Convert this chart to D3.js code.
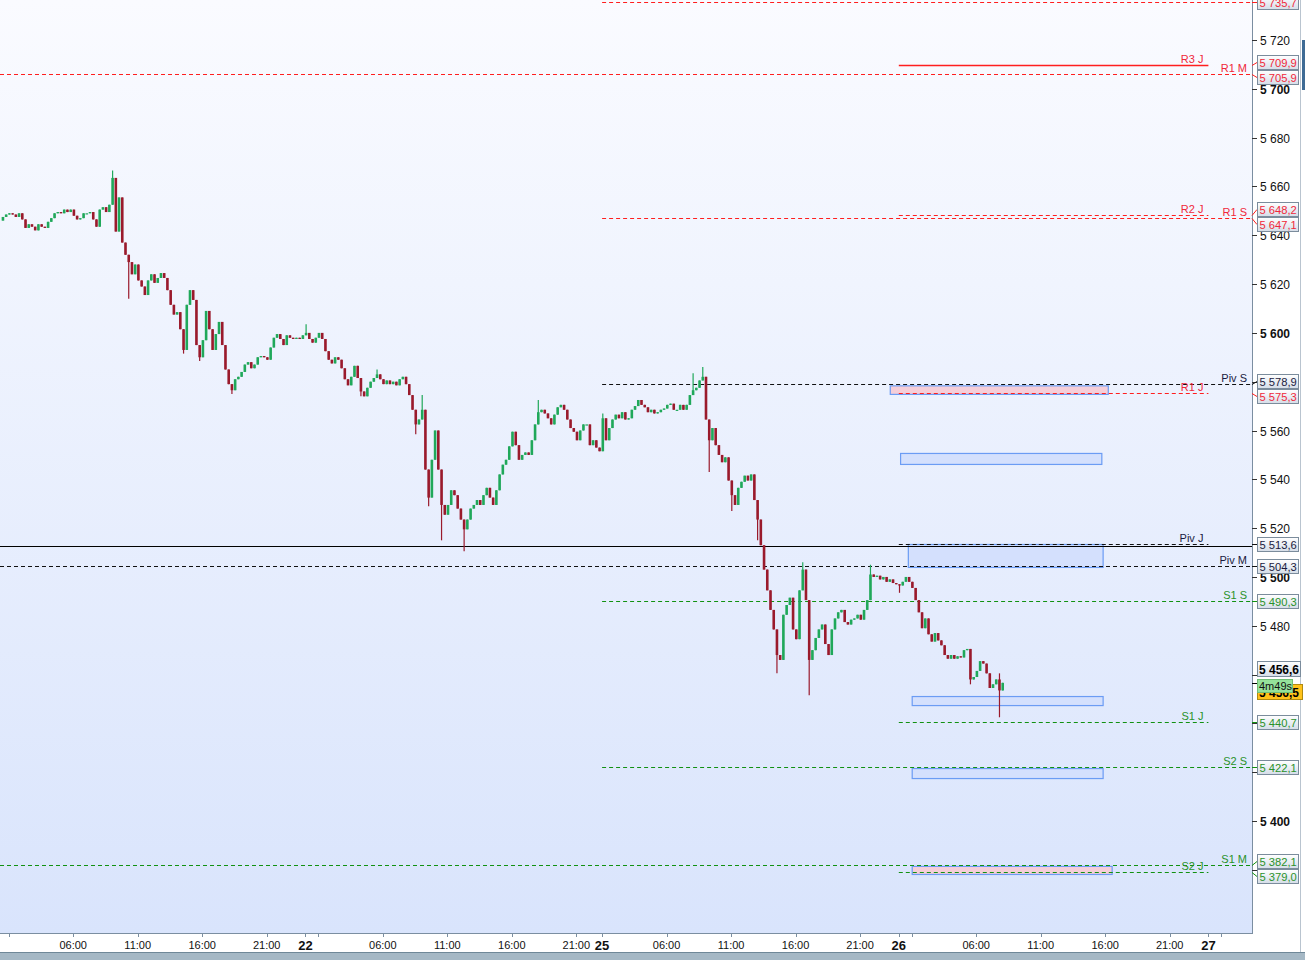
<!DOCTYPE html>
<html>
<head>
<meta charset="utf-8">
<script src="https://cdn.jsdelivr.net/npm/d3@7"></script>
<style>
body { margin: 0; background: #fff; overflow: hidden; }
svg { display: block; font-family: "Liberation Sans", Arial, sans-serif; }
</style>
</head>
<body>
<svg id="chart"></svg>
<script>
// 15 minute bars, time counted in session hours from the 21st 01:00
const startHour = -0.5;
const barHours = 0.25;
const firstOpen = 5646;
const closes = [
	5647.5, 5648.5, 5649, 5648.5, 5647.5, 5649, 5646.5, 5643, 5644.5, 5643.5,
	5642, 5644.5, 5643.5, 5643, 5645.5, 5647, 5649, 5649.5, 5649, 5650.5,
	5649.5, 5650.5, 5648, 5646.5, 5647, 5649, 5649, 5649.5, 5646.5, 5643.5,
	5650.5, 5651.5, 5649.5, 5652.5, 5663.5, 5641.5, 5655.5, 5637, 5632, 5629,
	5624, 5628, 5621.5, 5619, 5615.5, 5621.5, 5624, 5620.5, 5622.5, 5624.5,
	5622.5, 5617.5, 5611.5, 5607.5, 5608.5, 5601.5, 5593, 5611.5, 5617.5, 5613.5,
	5595, 5590, 5597, 5609, 5601.5, 5593, 5599.5, 5604.5, 5595, 5585,
	5579, 5576.5, 5581, 5582, 5584, 5587, 5588, 5585.5, 5587, 5590,
	5590.5, 5590, 5589, 5594, 5598, 5599.5, 5597.5, 5595, 5599, 5598,
	5597.5, 5598, 5597.5, 5599, 5600, 5597.5, 5596, 5598, 5600, 5597.5,
	5592.5, 5589, 5587.5, 5590, 5589, 5585.5, 5581, 5578.5, 5582, 5586.5,
	5581.5, 5576, 5574, 5577.5, 5580, 5581.5, 5583, 5581, 5579, 5580.5,
	5579, 5580, 5578.5, 5581, 5582, 5579, 5574.5, 5568.5, 5562.5, 5564.5,
	5568.5, 5544, 5532.5, 5548, 5560, 5544, 5529.5, 5525.5, 5529.5, 5535.5,
	5533.5, 5528, 5523.5, 5519.5, 5523.5, 5528, 5529.5, 5531.5, 5529.5, 5533.5,
	5536.5, 5532.5, 5529.5, 5535.5, 5542, 5546, 5548, 5553.5, 5559.5, 5554,
	5548, 5550, 5551, 5550, 5556, 5562.5, 5567.5, 5568.5, 5567, 5565,
	5562.5, 5566.5, 5569.5, 5570.5, 5568.5, 5564.5, 5561, 5559.5, 5556, 5560,
	5562.5, 5562.5, 5554, 5556, 5553, 5551.5, 5565, 5556, 5561, 5564.5,
	5566.5, 5565, 5567.5, 5564.5, 5565, 5568.5, 5570, 5572.5, 5570.5, 5569.5,
	5567.5, 5568.5, 5567, 5567.5, 5568.5, 5569, 5570.5, 5571, 5568.5, 5568.5,
	5570.5, 5568.5, 5570.5, 5574.5, 5576.5, 5577.5, 5580.5, 5582, 5564.5, 5556,
	5561, 5554, 5550, 5547, 5549, 5539.5, 5533.5, 5529.5, 5536.5, 5539,
	5541.5, 5539.5, 5542, 5531.5, 5523.5, 5513, 5503, 5494.5, 5486.5, 5478.5,
	5468, 5466, 5484.5, 5488.5, 5491.5, 5478.5, 5474.5, 5494.5, 5503, 5490.5,
	5466, 5470, 5475, 5478.5, 5480.5, 5472.5, 5468, 5478.5, 5483, 5485.5,
	5486.5, 5481.5, 5480.5, 5482.5, 5483, 5484.5, 5482.5, 5486.5, 5490.5, 5501,
	5500, 5500.5, 5499, 5500, 5498, 5499, 5497.5, 5497, 5496.5, 5498,
	5500, 5498, 5495.5, 5490.5, 5485.5, 5479, 5483, 5476.5, 5473.5, 5477,
	5474, 5472, 5468, 5466.5, 5468, 5466.5, 5467.5, 5467, 5470, 5470.5,
	5458, 5459, 5461.5, 5465.5, 5464.5, 5460.5, 5454.5, 5456, 5458, 5453.5, 5456.6
];
// [bar index, high, low] for bars whose wick reaches past the body
const spikes = [
	[34, 5666.5, null], [39, null, 5614], [56, null, 5591.5], [61, null, 5588.5],
	[71, null, 5575], [94, 5603.5, null], [111, null, 5574], [116, 5585, null],
	[128, null, 5558.5], [130, 5574.5, null], [132, null, 5529], [136, null, 5515],
	[143, null, 5510.5], [166, 5572.5, null], [186, 5567, null], [214, 5583.5, null],
	[217, 5586, null], [219, null, 5543], [226, null, 5527], [234, null, 5515],
	[240, null, 5460.5], [248, 5506, null], [250, null, 5451.5], [269, 5505, null],
	[278, null, 5493.5], [300, null, 5456], [309, 5460.5, 5442.5]
];

const levelNames = ['R2 S', 'R3 J', 'R1 M', 'R2 J', 'R1 S', 'Piv S', 'R1 J', 'Piv J', 'Piv M', 'S1 S', 'S1 J', 'S2 S', 'S1 M', 'S2 J'];
const levelPrices = [5735.7, 5709.9, 5705.9, 5648.2, 5647.1, 5578.9, 5575.3, 5513.6, 5504.3, 5490.3, 5440.7, 5422.1, 5382.1, 5379.0];
const solidLevels = ['R3 J'];
const userLine = 5512.7;
const lastPrice = 5456.6;
const lastBidText = '5 456,5';
const timerText = '4m49s';

const zoneStart = [68.3, 69.1, 69.7, 70.0, 70.0, 70.0];
const zoneEnd = [85.2, 84.7, 84.8, 84.8, 84.8, 85.5];
const zoneTop = [5578.5, 5550.8, 5513.5, 5451.2, 5421.7, 5381.6];
const zoneBottom = [5575.0, 5546.3, 5504.1, 5447.5, 5417.6, 5378.3];
const zoneKind = ['sell', 'buy', 'buy', 'buy', 'buy', 'sell'];

const priceTicks = [5380, 5400, 5420, 5440, 5460, 5480, 5500, 5520, 5540, 5560, 5580, 5600, 5620, 5640, 5660, 5680, 5700, 5720];
const hourTicks = [5, 10, 15, 20, 29, 34, 39, 44, 51, 56, 61, 66, 75, 80, 85, 90];
const hourLabels = ['06:00', '11:00', '16:00', '21:00', '06:00', '11:00', '16:00', '21:00', '06:00', '11:00', '16:00', '21:00', '06:00', '11:00', '16:00', '21:00'];
const dayTicks = [23, 46, 69, 93];
const dayLabels = ['22', '25', '26', '27'];
const sessionTicks = [0, 24, 70, 94];

const width = 1305, height = 960;
const plotRight = 1252, plotBottom = 933;

const svg = d3.select('#chart').attr('width', width).attr('height', height);
const defs = svg.append('defs');

const bg = defs.append('linearGradient').attr('id', 'bg').attr('x1', 0).attr('y1', 0).attr('x2', 0).attr('y2', 1);
bg.append('stop').attr('offset', '0%').attr('stop-color', '#fafbff');
bg.append('stop').attr('offset', '100%').attr('stop-color', '#d9e4fc');
const boxGrad = defs.append('linearGradient').attr('id', 'boxbg').attr('x1', 0).attr('y1', 0).attr('x2', 0).attr('y2', 1);
boxGrad.append('stop').attr('offset', '0%').attr('stop-color', '#ffffff');
boxGrad.append('stop').attr('offset', '100%').attr('stop-color', '#d5dde8');
defs.append('clipPath').attr('id', 'plotclip')
	.append('rect').attr('x', 0).attr('y', 0).attr('width', plotRight).attr('height', plotBottom);

const x = d3.scaleLinear().domain([0, 96]).range([8.7, 8.7 + 96 * 12.9]);
const y = d3.scaleLinear().domain([5400, 5720]).range([821, 40]);

const colors = { up: '#20a85a', down: '#9a1a2c', red: '#ff1f1f', black: '#111', green: '#119111' };
const levelColor = name => name[0] === 'R' ? colors.red : (name[0] === 'P' ? colors.black : colors.green);
const levelText = name => name[0] === 'R' ? '#f0283a' : (name[0] === 'P' ? '#1a1a40' : '#2a922a');
const levelRange = name => {
	const period = name[name.length - 1];
	if (period === 'J') return [x(69), x(93)];
	if (period === 'S') return [x(46), plotRight];
	return [0, plotRight];
};
const fmt = v => d3.format(',.1f')(v).replace(',', ' ').replace('.', ',');

// background panels
svg.append('rect').attr('width', plotRight).attr('height', plotBottom).attr('fill', 'url(#bg)');
svg.append('rect').attr('y', 952).attr('width', width).attr('height', 8).attr('fill', '#a5b8c5');
svg.append('line').attr('x1', 0).attr('x2', width).attr('y1', 952.5).attr('y2', 952.5).attr('stroke', '#6f8898');
svg.append('line').attr('x1', 1300.5).attr('x2', 1300.5).attr('y1', 0).attr('y2', 952).attr('stroke', '#b9c4cf');
svg.append('rect').attr('x', 1302).attr('y', 40).attr('width', 3).attr('height', 50).attr('fill', '#3f6b95');

const plot = svg.append('g').attr('clip-path', 'url(#plotclip)');

// zones
plot.append('g').selectAll('rect').data(zoneStart).join('rect')
	.attr('x', (d, i) => x(d) + 0.5)
	.attr('y', (d, i) => y(zoneTop[i]) + 0.5)
	.attr('width', (d, i) => x(zoneEnd[i]) - x(d))
	.attr('height', (d, i) => y(zoneBottom[i]) - y(zoneTop[i]))
	.attr('fill', (d, i) => zoneKind[i] === 'sell' ? '#f5ced9' : '#d4e0fd')
	.attr('stroke', '#6b9cf4')
	.attr('stroke-width', 1.2);

// levels
const levels = plot.append('g');
levelNames.forEach((name, i) => {
	const [x1, x2] = levelRange(name);
	const yy = Math.round(y(levelPrices[i])) + 0.5;
	const solid = solidLevels.includes(name);
	levels.append('line')
		.attr('x1', x1).attr('x2', x2).attr('y1', yy).attr('y2', yy)
		.attr('stroke', levelColor(name)).attr('stroke-width', solid ? 1.4 : 1)
		.attr('stroke-dasharray', solid ? null : '4,3');
	// names that would sit above the top edge are not shown
	if (yy - 3 < 12) return;
	levels.append('text')
		.attr('x', x2 - 5).attr('y', yy - 3)
		.attr('text-anchor', 'end')
		.attr('font-size', 11)
		.attr('fill', levelText(name))
		.text(name);
});
levels.append('line')
	.attr('x1', 0).attr('x2', plotRight)
	.attr('y1', Math.round(y(userLine)) + 0.5).attr('y2', Math.round(y(userLine)) + 0.5)
	.attr('stroke', '#000').attr('stroke-width', 1.2);

// candles
const bars = closes.map((c, i) => {
	const o = i === 0 ? firstOpen : closes[i - 1];
	return { t: startHour + i * barHours, o: o, c: c, h: Math.max(o, c), l: Math.min(o, c) };
});
spikes.forEach(([i, hi, lo]) => {
	if (hi !== null) bars[i].h = hi;
	if (lo !== null) bars[i].l = lo;
});
const candles = plot.append('g');
candles.selectAll('line').data(bars).join('line')
	.attr('x1', d => x(d.t) + 0.7).attr('x2', d => x(d.t) + 0.7)
	.attr('y1', d => y(d.h)).attr('y2', d => y(d.l))
	.attr('stroke', d => d.c >= d.o ? colors.up : colors.down)
	.attr('stroke-width', 1.2);
candles.selectAll('rect').data(bars).join('rect')
	.attr('x', d => x(d.t) - 0.6)
	.attr('width', 2.6)
	.attr('y', d => y(Math.max(d.o, d.c)))
	.attr('height', d => Math.max(1.2, Math.abs(y(d.o) - y(d.c))))
	.attr('fill', d => d.c >= d.o ? colors.up : colors.down);

// axes frame
svg.append('line').attr('x1', plotRight + 0.5).attr('x2', plotRight + 0.5).attr('y1', 0).attr('y2', plotBottom)
	.attr('stroke', '#7b8ea1');
svg.append('line').attr('x1', 0).attr('x2', plotRight + 1).attr('y1', plotBottom + 0.5).attr('y2', plotBottom + 0.5)
	.attr('stroke', '#7b8ea1');

// price boxes, pushed apart where they would overlap
const boxes = levelNames.map((name, i) => ({ name: name, price: levelPrices[i], y0: y(levelPrices[i]), y: y(levelPrices[i]) }))
	.sort((a, b) => a.y0 - b.y0);
for (let i = 1; i < boxes.length; i++) {
	if (boxes[i].y - boxes[i - 1].y < 15) {
		const mid = (boxes[i].y + boxes[i - 1].y) / 2;
		boxes[i - 1].y = mid - 7.5;
		boxes[i].y = mid + 7.5;
	}
}
const yl = Math.round(y(lastPrice));
const boxCentres = boxes.map(b => b.y).concat([yl - 14, yl + 9]);

// price axis; a label that a price box hides almost entirely is left out
const yAxis = svg.append('g');
priceTicks.forEach(p => {
	const yy = Math.round(y(p)) + 0.5;
	yAxis.append('line').attr('x1', plotRight).attr('x2', plotRight + 5).attr('y1', yy).attr('y2', yy).attr('stroke', '#333');
	if (boxCentres.some(c => Math.abs(c - yy) < 8)) return;
	yAxis.append('text')
		.attr('x', plotRight + 8).attr('y', yy + 4.5)
		.attr('font-size', 12)
		.attr('font-weight', p % 100 === 0 ? 'bold' : 'normal')
		.attr('fill', '#111')
		.text(d3.format(',')(p).replace(',', ' '));
});

// time axis
const xAxis = svg.append('g');
const tickMark = t => xAxis.append('line')
	.attr('x1', Math.round(x(t)) + 0.5).attr('x2', Math.round(x(t)) + 0.5)
	.attr('y1', plotBottom).attr('y2', plotBottom + 4).attr('stroke', '#7b8ea1');
hourTicks.forEach((t, i) => {
	tickMark(t);
	xAxis.append('text').attr('x', x(t)).attr('y', 949).attr('text-anchor', 'middle')
		.attr('font-size', 11).attr('fill', '#111').text(hourLabels[i]);
});
dayTicks.forEach((t, i) => {
	tickMark(t);
	xAxis.append('text').attr('x', x(t)).attr('y', 950).attr('text-anchor', 'middle')
		.attr('font-size', 13).attr('font-weight', 'bold').attr('fill', '#111').text(dayLabels[i]);
});
sessionTicks.forEach(tickMark);

const boxG = svg.append('g');
boxes.forEach(b => {
	boxG.append('line').attr('x1', plotRight).attr('x2', plotRight + 5)
		.attr('y1', Math.round(b.y0) + 0.5).attr('y2', Math.round(b.y) + 0.5)
		.attr('stroke', levelColor(b.name));
	boxG.append('rect').attr('x', 1257.5).attr('y', Math.round(b.y) - 6.5)
		.attr('width', 41).attr('height', 14)
		.attr('fill', 'url(#boxbg)').attr('stroke', '#7b8c9c');
	boxG.append('text').attr('x', 1259.5).attr('y', Math.round(b.y) + 4.5)
		.attr('font-size', 11.2).attr('fill', levelText(b.name)).text(fmt(b.price));
});

// last price, bid and countdown
boxG.append('rect').attr('x', 1257.5).attr('y', yl - 21.5).attr('width', 43).attr('height', 15)
	.attr('fill', 'url(#boxbg)').attr('stroke', '#7b8c9c');
boxG.append('text').attr('x', 1259).attr('y', yl - 9.5).attr('font-size', 12).attr('font-weight', 'bold')
	.attr('fill', '#000').text(fmt(lastPrice));
boxG.append('rect').attr('x', 1257.5).attr('y', yl + 1.5).attr('width', 45).attr('height', 15)
	.attr('fill', '#ffc21a').attr('stroke', '#b08a10');
boxG.append('text').attr('x', 1259).attr('y', yl + 13.5).attr('font-size', 12).attr('font-weight', 'bold')
	.attr('fill', '#000').text(lastBidText);
boxG.append('line').attr('x1', plotRight).attr('x2', plotRight + 5).attr('y1', yl + 0.5).attr('y2', yl + 0.5).attr('stroke', '#000');
boxG.append('rect').attr('x', 1257.5).attr('y', yl - 3.5).attr('width', 35).attr('height', 13)
	.attr('fill', '#95e29a').attr('stroke', '#6fbf76');
boxG.append('text').attr('x', 1259).attr('y', yl + 6.5).attr('font-size', 11)
	.attr('fill', '#111').text(timerText);
</script>
</body>
</html>
